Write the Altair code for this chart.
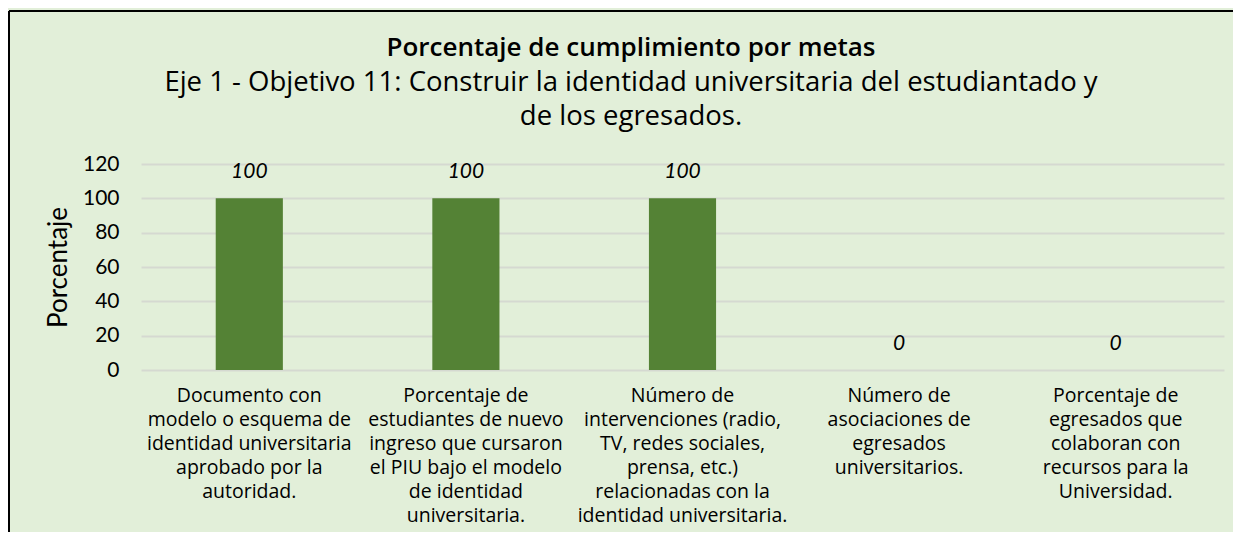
import altair as alt
import pandas as pd

categories = [
    "Documento con\nmodelo o esquema de\nidentidad universitaria\naprobado por la\nautoridad.",
    "Porcentaje de\nestudiantes de nuevo\ningreso que cursaron\nel PIU bajo el modelo\nde identidad\nuniversitaria.",
    "Número de\nintervenciones (radio,\nTV, redes sociales,\nprensa, etc.)\nrelacionadas con la\nidentidad universitaria.",
    "Número de\nasociaciones de\negresados\nuniversitarios.",
    "Porcentaje de\negresados que\ncolaboran con\nrecursos para la\nUniversidad.",
]
values = [100, 100, 100, 0, 0]
y_ticks = [0, 20, 40, 60, 80, 100, 120]

title_text = "Porcentaje de cumplimiento por metas"
subtitle_lines = [
    "Eje 1 - Objetivo 11: Construir la identidad universitaria del estudiantado y",
    "de los egresados.",
]

df = pd.DataFrame({"meta": categories, "valor": values})

FONT = "Lato"
LFONT = "Open Sans"
W, H = 1083, 206
TOTAL_H = 524

x_enc = alt.X(
    "meta:N",
    sort=categories,
    scale=alt.Scale(paddingInner=0.69, paddingOuter=0.345),
    axis=alt.Axis(
        title=None,
        labelAngle=0,
        labelExpr="split(datum.label, '\\n')",
        labelFont=LFONT,
        labelFontSize=19.5,
        labelLineHeight=24,
        labelColor="#000000",
        labelBaseline="top",
        labelPadding=16,
        labelLimit=300,
        labelOverlap=False,
        ticks=False,
        domain=False,
        grid=False,
    ),
)

y_enc = alt.Y(
    "valor:Q",
    scale=alt.Scale(domain=[0, 120], nice=False),
    axis=alt.Axis(
        title="Porcentaje",
        titleFont=FONT,
        titleFontSize=26,
        titleFontWeight="normal",
        titleColor="#000000",
        titlePadding=11,
        values=y_ticks,
        tickCount=7,
        labelFont=FONT,
        labelFontSize=21,
        labelColor="#000000",
        labelPadding=22,
        labelOverlap=False,
        ticks=False,
        domain=False,
        grid=True,
        gridColor="#D5D9D1",
        gridWidth=2,
    ),
)

base = alt.Chart(df).encode(x=x_enc, y=y_enc)

bars = base.mark_bar(color="#548235")

labels = base.mark_text(
    font=FONT, fontSize=21, fontStyle="italic", color="#000000",
    baseline="middle", dy=-26,
).encode(text=alt.Text("valor:Q"))

frame_df = pd.DataFrame({"k": [0]})
frame = alt.Chart(frame_df)
top_border = frame.mark_rule(color="#000000", strokeWidth=2).encode(
    x=alt.value(-132), x2=alt.value(W + 9), y=alt.value(-153)
)
left_border = frame.mark_rule(color="#000000", strokeWidth=2).encode(
    x=alt.value(-132), y=alt.value(-153), y2=alt.value(TOTAL_H - 156)
)

CX = 490
title_mark = frame.mark_text(
    text=title_text, font=LFONT, fontSize=26, fontWeight=600, color="#000000",
    align="center", baseline="alphabetic",
).encode(x=alt.value(CX), y=alt.value(-108))
sub1 = frame.mark_text(
    text=subtitle_lines[0], font=LFONT, fontSize=27.5, color="#000000",
    align="center", baseline="alphabetic",
).encode(x=alt.value(CX), y=alt.value(-73))
sub2 = frame.mark_text(
    text=subtitle_lines[1], font=LFONT, fontSize=27.5, color="#000000",
    align="center", baseline="alphabetic",
).encode(x=alt.value(CX), y=alt.value(-39))

chart = (
    alt.layer(bars, labels, top_border, left_border, title_mark, sub1, sub2)
    .properties(
        width=W,
        height=H,
        autosize=alt.AutoSizeParams(type="none"),
        padding={"left": 133, "top": 156, "right": 9, "bottom": TOTAL_H - 156 - H},
    )
    .configure(background="#E2EFD9")
    .configure_view(stroke=None)
)

chart.save("out.html", embed_options={"renderer": "svg", "actions": False})
